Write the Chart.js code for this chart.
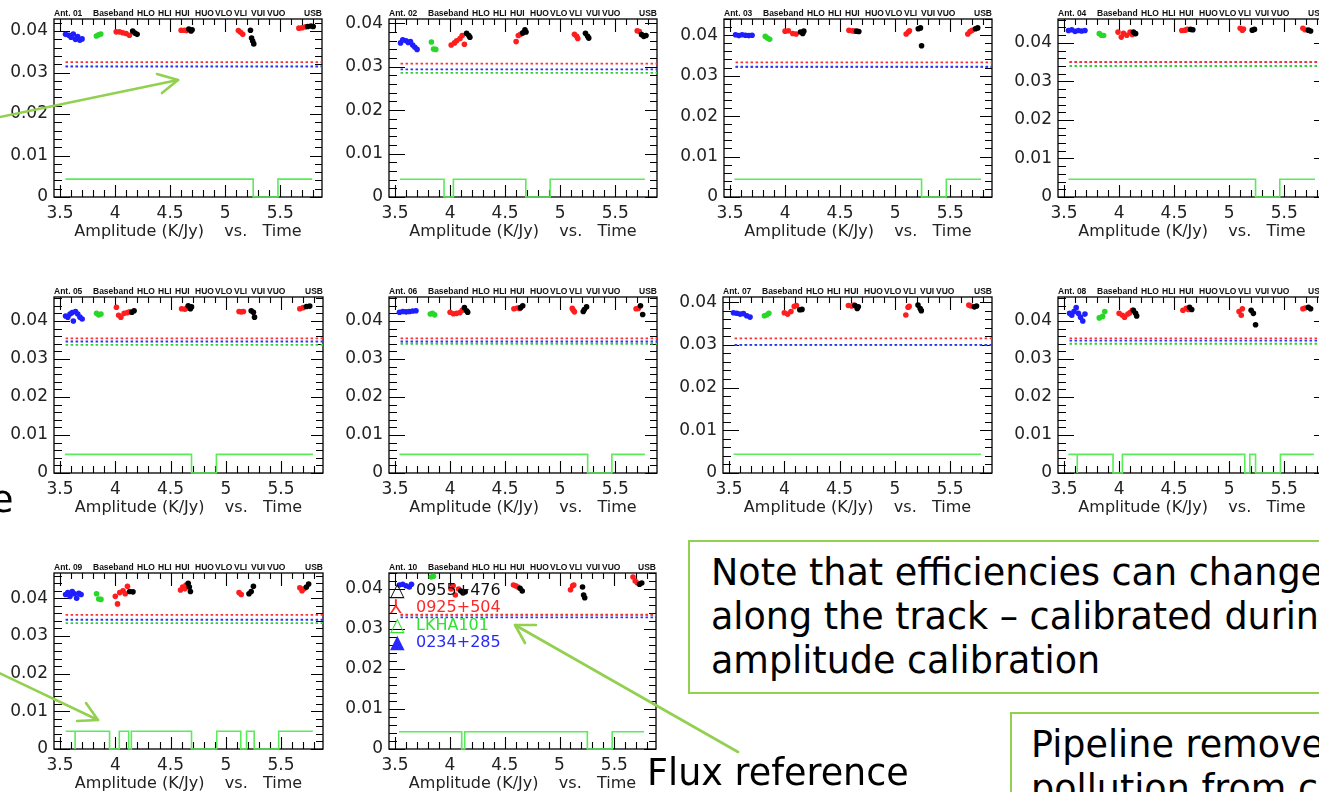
<!DOCTYPE html>
<html><head><meta charset="utf-8">
<script src="https://cdn.jsdelivr.net/npm/chart.js@4.4.1/dist/chart.umd.min.js"></script>
<style>
html,body{margin:0;padding:0;background:#fff;width:1319px;height:792px;overflow:hidden;position:relative;font-family:"DejaVu Sans",sans-serif;}
.panel{position:absolute;}
.panel canvas{position:absolute;left:0;top:0;}
.toplab{position:absolute;font:bold 8.5px "Liberation Sans",Arial,sans-serif;color:#111;white-space:nowrap;line-height:9px;}
.box{position:absolute;border:2px solid rgb(146,208,80);background:#fff;font-size:36.5px;line-height:44px;white-space:nowrap;color:#000;box-sizing:border-box;}
.slide{position:absolute;font-size:36.5px;line-height:44px;white-space:nowrap;color:#000;}
.leg{position:absolute;font-size:16px;line-height:17.3px;white-space:nowrap;}
.leg span{position:absolute;}
.leg span.sym{font-size:19px;line-height:17.3px;}
svg{position:absolute;left:0;top:0;pointer-events:none;}
</style></head><body>
<script>
// ---------- data ----------
const antennaLabels = ['Ant. 01','Ant. 02','Ant. 03','Ant. 04','Ant. 05','Ant. 06','Ant. 07','Ant. 08','Ant. 09','Ant. 10'];
const basebandLabels = ['Baseband','HLO','HLI','HUI','HUO','VLO','VLI','VUI','VUO'];
const sidebandLabel = 'USB';
const sourceNames = ['0955+476','0925+504','LKHA101','0234+285'];
const xTickLabels = ['3.5','4','4.5','5','5.5'];
const yTickLabels = ['0','0.01','0.02','0.03','0.04'];
const xTitle = 'Amplitude (K/Jy)    vs.   Time';
const xRange = [3.445, 5.88];
const yMax = [0.0429,0.0410,0.0440,0.0462,0.0463,0.0463,0.0412,0.0463,0.0467,0.0440];

// 0234+285 (blue)
const blueData = [
 [[3.55,0.0392],[3.58,0.0390],[3.60,0.0385],[3.62,0.0393],[3.64,0.0380],[3.66,0.0387],[3.68,0.0378],[3.70,0.0381]],
 [[3.55,0.0355],[3.57,0.0362],[3.60,0.0360],[3.62,0.0356],[3.64,0.0358],[3.66,0.0350],[3.68,0.0345],[3.70,0.0340]],
 [[3.55,0.0401],[3.58,0.0399],[3.61,0.0401],[3.64,0.0400],[3.67,0.0399],[3.70,0.0400]],
 [[3.54,0.0432],[3.57,0.0434],[3.60,0.0430],[3.63,0.0432],[3.66,0.0431],[3.69,0.0432]],
 [[3.55,0.0413],[3.57,0.0410],[3.59,0.0418],[3.61,0.0422],[3.62,0.0400],[3.64,0.0425],[3.66,0.0418],[3.68,0.0410],[3.70,0.0405]],
 [[3.54,0.0423],[3.57,0.0425],[3.60,0.0424],[3.63,0.0425],[3.66,0.0426],[3.69,0.0427]],
 [[3.54,0.0375],[3.57,0.0374],[3.60,0.0372],[3.63,0.0373],[3.66,0.0368],[3.69,0.0365]],
 [[3.55,0.0420],[3.57,0.0415],[3.59,0.0425],[3.61,0.0435],[3.63,0.0420],[3.65,0.0410],[3.67,0.0400],[3.69,0.0418]],
 [[3.55,0.0410],[3.57,0.0415],[3.59,0.0405],[3.61,0.0418],[3.63,0.0412],[3.65,0.0400],[3.67,0.0413],[3.69,0.0410]],
 [[3.54,0.0410],[3.57,0.0412],[3.60,0.0408],[3.63,0.0405],[3.65,0.0412]]
];
// LKHA101 (green)
const greenData = [
 [[3.83,0.0388],[3.85,0.0391],[3.87,0.0393]],
 [[3.83,0.0357],[3.85,0.0341],[3.87,0.0340]],
 [[3.82,0.0397],[3.84,0.0393],[3.86,0.0390]],
 [[3.82,0.0424],[3.84,0.0420],[3.86,0.0419]],
 [[3.83,0.0420],[3.85,0.0416],[3.87,0.0418]],
 [[3.82,0.0418],[3.84,0.0420],[3.86,0.0416]],
 [[3.82,0.0368],[3.84,0.0370],[3.86,0.0374]],
 [[3.82,0.0408],[3.85,0.0412],[3.87,0.0425]],
 [[3.83,0.0412],[3.85,0.0398],[3.87,0.0397]],
 [[3.83,0.0430],[3.85,0.0432]]
];
// 0925+504 (red)
const redData = [
 [[4.01,0.0398],[4.04,0.0398],[4.07,0.0396],[4.10,0.0394],[4.13,0.0390],[4.60,0.0402],[4.63,0.0402],[4.65,0.0401],[5.12,0.0401],[5.14,0.0397],[5.16,0.0392],[5.67,0.0407],[5.70,0.0408],[5.73,0.0410]],
 [[4.01,0.0350],[4.04,0.0355],[4.06,0.0360],[4.09,0.0365],[4.11,0.0372],[4.13,0.0352],[4.60,0.0358],[4.62,0.0372],[4.64,0.0375],[5.13,0.0375],[5.15,0.0370],[5.16,0.0365],[5.70,0.0383],[5.72,0.0381]],
 [[4.00,0.0410],[4.03,0.0411],[4.07,0.0404],[4.10,0.0403],[4.58,0.0412],[4.61,0.0411],[4.63,0.0410],[5.10,0.0403],[5.12,0.0408],[5.13,0.0411],[5.66,0.0403],[5.68,0.0409],[5.70,0.0412]],
 [[3.99,0.0428],[4.02,0.0415],[4.04,0.0425],[4.07,0.0420],[4.10,0.0428],[4.12,0.0422],[4.57,0.0432],[4.60,0.0433],[4.62,0.0435],[5.10,0.0438],[5.12,0.0433],[5.13,0.0436],[5.67,0.0438],[5.69,0.0434]],
 [[4.01,0.0436],[4.03,0.0415],[4.05,0.0410],[4.08,0.0420],[4.11,0.0422],[4.13,0.0424],[4.60,0.0432],[4.63,0.0431],[4.65,0.0434],[5.12,0.0425],[5.14,0.0424],[5.16,0.0425],[5.67,0.0432],[5.70,0.0435]],
 [[4.00,0.0423],[4.03,0.0419],[4.06,0.0420],[4.09,0.0422],[4.11,0.0428],[4.58,0.0432],[4.61,0.0434],[4.63,0.0433],[5.11,0.0433],[5.12,0.0428],[5.13,0.0424],[5.69,0.0432],[5.71,0.0433]],
 [[4.00,0.0375],[4.03,0.0372],[4.06,0.0378],[4.09,0.0390],[4.11,0.0392],[4.58,0.0392],[4.61,0.0391],[4.63,0.0393],[5.10,0.0370],[5.12,0.0388],[5.13,0.0390],[5.67,0.0393],[5.69,0.0391]],
 [[4.00,0.0420],[4.03,0.0415],[4.05,0.0410],[4.08,0.0418],[4.10,0.0422],[4.12,0.0428],[4.58,0.0428],[4.61,0.0433],[4.63,0.0430],[5.09,0.0425],[5.11,0.0415],[5.12,0.0432],[5.67,0.0432],[5.69,0.0434]],
 [[4.00,0.0405],[4.02,0.0385],[4.04,0.0415],[4.07,0.0420],[4.09,0.0412],[4.11,0.0432],[4.59,0.0422],[4.61,0.0430],[4.63,0.0425],[4.64,0.0435],[5.12,0.0415],[5.14,0.0410],[5.67,0.0428],[5.69,0.0420],[5.71,0.0425]],
 [[4.01,0.0400],[4.03,0.0408],[4.05,0.0385],[4.08,0.0400],[4.58,0.0410],[4.60,0.0408],[4.62,0.0405],[5.10,0.0398],[5.12,0.0408],[5.13,0.0410],[5.67,0.0430],[5.69,0.0420],[5.71,0.0415]]
];
// 0955+476 (black)
const blackData = [
 [[4.16,0.0400],[4.18,0.0395],[4.20,0.0392],[4.67,0.0405],[4.69,0.0400],[4.70,0.0403],[5.23,0.0402],[5.24,0.0383],[5.25,0.0376],[5.26,0.0369],[5.75,0.0411],[5.78,0.0412],[5.80,0.0411]],
 [[4.15,0.0377],[4.17,0.0372],[4.18,0.0368],[4.66,0.0378],[4.68,0.0385],[4.69,0.0380],[5.23,0.0377],[5.25,0.0370],[5.26,0.0366],[5.74,0.0374],[5.76,0.0370],[5.78,0.0372]],
 [[4.14,0.0408],[4.16,0.0404],[4.17,0.0410],[4.65,0.0410],[4.67,0.0409],[5.21,0.0416],[5.23,0.0418],[5.24,0.0374],[5.73,0.0416],[5.75,0.0418]],
 [[4.13,0.0428],[4.15,0.0424],[4.65,0.0435],[4.67,0.0434],[5.21,0.0433],[5.23,0.0435],[5.72,0.0433],[5.74,0.0431]],
 [[4.15,0.0423],[4.17,0.0427],[4.66,0.0440],[4.68,0.0432],[4.69,0.0437],[5.23,0.0427],[5.25,0.0423],[5.26,0.0410],[5.73,0.0438],[5.76,0.0439]],
 [[4.13,0.0435],[4.15,0.0427],[4.16,0.0423],[4.64,0.0435],[4.66,0.0440],[5.21,0.0425],[5.22,0.0430],[5.24,0.0437],[5.73,0.0440],[5.75,0.0417]],
 [[4.14,0.0382],[4.16,0.0383],[4.64,0.0392],[4.66,0.0385],[4.67,0.0389],[5.21,0.0393],[5.23,0.0385],[5.24,0.0380],[5.72,0.0389],[5.74,0.0391]],
 [[4.13,0.0428],[4.15,0.0420],[4.16,0.0413],[4.64,0.0436],[4.66,0.0430],[5.20,0.0428],[5.22,0.0420],[5.24,0.0390],[5.72,0.0436],[5.74,0.0432]],
 [[4.13,0.0418],[4.16,0.0417],[4.66,0.0440],[4.67,0.0430],[4.68,0.0418],[5.21,0.0412],[5.23,0.0418],[5.25,0.0432],[5.73,0.0430],[5.75,0.0438]],
 [[4.10,0.0395],[4.12,0.0390],[4.14,0.0393],[4.64,0.0402],[4.66,0.0395],[5.21,0.0405],[5.22,0.0385],[5.23,0.0378],[5.73,0.0412],[5.75,0.0415]]
];
// reference efficiency levels (dotted lines)
const refRed   = [0.0325,0.0307,0.0333,0.0350,0.0354,0.0354,0.0315,0.0354,0.0356,0.0336];
const refBlue  = [0.0315,0.0294,0.0322,0.0350,0.0346,0.0346,0.0300,0.0348,0.0343,0.0329];
const refGreen = [0.0314,0.0286,0.0321,0.0340,0.0337,0.0340,0.0300,0.0340,0.0334,0.0335];
const refSpan  = [3.55, 5.88];
// flag (green step line): level and [time, on/off] changes
const flagLevel = [0.0043,0.0041,0.0044,0.0046,0.0049,0.0049,0.0044,0.0049,0.0047,0.0043];
const flagSteps = [
 [[3.55,1],[5.255,0],[5.48,1],[5.79,1]],
 [[3.545,1],[3.945,0],[4.03,1],[4.688,0],[4.909,1],[5.77,1]],
 [[3.54,1],[5.24,0],[5.465,1],[5.78,1]],
 [[3.54,1],[5.24,0],[5.46,1],[5.78,1]],
 [[3.545,1],[4.69,0],[4.915,1],[5.79,1]],
 [[3.54,1],[5.25,0],[5.47,1],[5.77,1]],
 [[3.54,1],[5.78,1]],
 [[3.54,1],[3.62,0],[3.62,1],[3.945,0],[4.03,1],[5.142,0],[5.188,1],[5.24,0],[5.466,1],[5.77,1]],
 [[3.551,1],[3.636,0],[3.636,1],[3.948,0],[4.036,1],[4.121,0],[4.145,1],[4.69,0],[4.918,1],[5.136,0],[5.188,1],[5.257,0],[5.479,1],[5.788,1]],
 [[3.536,1],[4.108,0],[4.136,1],[5.254,0],[5.48,1],[5.77,1]]
];

// ---------- layout (page pixels of each plot frame: left, top, right, bottom) ----------
const frames = [
 [54,19,322,197],[389,19,657,197],[724,19,992,197],[1058,19,1326,197],
 [54,297,323,473],[389,297,657,473],[723,297,992,473],[1058,297,1326,473],
 [54,573,323,749],[389,573,656,749]
];
const topLabelOffsets = [0,39,83,104,121,141,161,180,197,213];
const colors = {blue:'rgb(30,30,255)', green:'rgb(40,215,40)', red:'rgb(255,30,30)', black:'#000',
  refRed:'rgb(255,50,50)', refBlue:'rgb(50,50,255)', refGreen:'rgb(50,210,50)', flag:'rgb(90,235,90)'};

const framePlugin = {
  id:'frameTicks',
  beforeDatasetsDraw(chart){
    const {ctx, chartArea:a, scales:{x,y}} = chart;
    ctx.save();
    ctx.strokeStyle='#000'; ctx.lineWidth=1.3;
    ctx.strokeRect(a.left, a.top, a.right-a.left, a.bottom-a.top);
    ctx.beginPath();
    x.ticks.forEach(t=>{
      const px = Math.round(x.getPixelForValue(t.value))+0.5;
      const major = Math.round(t.value*10)%5===0;
      ctx.moveTo(px,a.bottom); ctx.lineTo(px,a.bottom-(major?12:7));
      ctx.moveTo(px,a.top); ctx.lineTo(px,a.top+(major?13:6));
    });
    y.ticks.forEach(t=>{
      const py = Math.round(y.getPixelForValue(t.value))+0.5;
      const major = Math.round(t.value*1000)%10===0;
      ctx.moveTo(a.left,py); ctx.lineTo(a.left+(major?16:8),py);
      ctx.moveTo(a.right,py); ctx.lineTo(a.right-(major?12:7),py);
    });
    ctx.lineWidth=1.1;
    ctx.stroke();
    ctx.restore();
  }
};

const pts = arr => arr.map(p=>({x:p[0], y:p[1]}));

function makePanel(i){
  const [L,T,R,B] = frames[i];
  const padTop=22, padRight=8, yW=54, xH=45;
  const w = yW+(R-L)+padRight, h = padTop+(B-T)+xH;
  const div = document.createElement('div'); div.className='panel';
  Object.assign(div.style,{left:(L-yW)+'px',top:(T-padTop)+'px',width:w+'px',height:h+'px'});
  const cv = document.createElement('canvas'); cv.width=w; cv.height=h;
  cv.style.width=w+'px'; cv.style.height=h+'px';
  div.appendChild(cv); document.body.appendChild(div);

  // top labels
  const labels = [antennaLabels[i]].concat(basebandLabels);
  labels.forEach((txt,k)=>{
    const s=document.createElement('div'); s.className='toplab'; s.textContent=txt;
    s.style.left=(L+topLabelOffsets[k])+'px'; s.style.top=(T-10)+'px';
    document.body.appendChild(s);
  });
  const u=document.createElement('div'); u.className='toplab'; u.textContent=sidebandLabel;
  Object.assign(u.style,{left:L+'px',width:(R-L)+'px',textAlign:'right',top:(T-10)+'px'});
  document.body.appendChild(u);

  const refLine = (v,c)=>({type:'line', data:[{x:refSpan[0],y:v},{x:refSpan[1],y:v}], borderColor:c,
    borderWidth:1.8, borderDash:[2.5,2.5], pointRadius:0, showLine:true, fill:false, clip:false});
  const lvl = flagLevel[i];
  const flagPts = flagSteps[i].map(s=>({x:s[0], y:s[1]?lvl:0}));
  const scat = (d,c)=>({type:'scatter', data:pts(d), backgroundColor:c, borderWidth:0, pointRadius:2.8, pointHoverRadius:2.8});

  new Chart(cv,{
    type:'scatter',
    data:{datasets:[
      scat(blackData[i],colors.black),
      scat(redData[i],colors.red),
      scat(greenData[i],colors.green),
      scat(blueData[i],colors.blue),
      refLine(refRed[i],colors.refRed),
      refLine(refBlue[i],colors.refBlue),
      refLine(refGreen[i],colors.refGreen),
      {type:'line', data:flagPts, stepped:true, borderColor:colors.flag, borderWidth:1.6, pointRadius:0, fill:false, clip:false, showLine:true}
    ]},
    options:{
      responsive:false, animation:false, devicePixelRatio:1,
      layout:{padding:{top:padTop,right:padRight,left:0,bottom:0}},
      plugins:{legend:{display:false}, tooltip:{enabled:false}},
      events:[],
      scales:{
        x:{type:'linear', min:xRange[0], max:xRange[1],
          afterFit:s=>{s.height=xH;},
          grid:{display:false, drawTicks:false}, border:{display:false},
          ticks:{stepSize:0.1, includeBounds:false, autoSkip:false, maxRotation:0, minRotation:0, padding:6,
            color:'#222', font:{family:'DejaVu Sans', size:17},
            callback:v=>{const k=Math.round(v*10); return k%5===0 ? (xTickLabels[(k-35)/5]||'') : '';}},
          title:{display:true, text:xTitle, color:'#222', font:{family:'DejaVu Sans', size:16}, padding:{top:0,bottom:1}}
        },
        y:{type:'linear', min:0, max:yMax[i],
          afterFit:s=>{s.width=yW;},
          grid:{display:false, drawTicks:false}, border:{display:false},
          ticks:{stepSize:0.002, includeBounds:false, autoSkip:false, padding:6,
            color:'#222', font:{family:'DejaVu Sans', size:17},
            callback:v=>{const k=Math.round(v*1000); return k%10===0 ? (yTickLabels[k/10]||'') : '';}}
        }
      }
    },
    plugins:[framePlugin]
  });
}
for (let i=0;i<frames.length;i++) makePanel(i);

// legend of panel 10
const legColors = ['#111','rgb(255,40,40)','rgb(50,225,50)','rgb(40,40,255)'];
const legSymbols = ['\u25B3','\u2144','\u25B3','\u25B2'];
const leg = document.createElement('div'); leg.className='leg';
Object.assign(leg.style,{left:'390px', top:'581px'});
sourceNames.forEach((n,k)=>{
  const sy=document.createElement('span'); sy.className='sym'; sy.textContent=legSymbols[k];
  Object.assign(sy.style,{left:'0px', top:(k*17.3)+'px', color:legColors[k]});
  const tx=document.createElement('span'); tx.textContent=n;
  Object.assign(tx.style,{left:'26px', top:(k*17.3)+'px', color:legColors[k]});
  leg.appendChild(sy); leg.appendChild(tx);
});
document.body.appendChild(leg);
</script>

<div class="slide" style="left:-9px;top:478px;">e</div>
<div class="box" style="left:688px;top:540px;width:700px;height:154px;padding:9px 0 0 21px;">Note that efficiencies can change<br>along the track – calibrated during<br>amplitude calibration</div>
<div class="box" style="left:1010px;top:712px;width:400px;height:120px;padding:9px 0 0 19px;">Pipeline remove<br>pollution from c</div>
<div class="slide" style="left:647px;top:751px;">Flux reference</div>

<svg width="1319" height="792" viewBox="0 0 1319 792">
 <g stroke="rgb(146,208,80)" stroke-width="2.6" fill="none" stroke-linecap="round" stroke-linejoin="round">
  <line x1="-5" y1="118" x2="178" y2="80"/>
  <polyline points="157,74 178,80 162,93"/>
  <line x1="-5" y1="671" x2="98" y2="720"/>
  <polyline points="77,721 98,720 86,703"/>
  <line x1="738" y1="752" x2="515" y2="625"/>
  <polyline points="536,625 515,625 525,643"/>
 </g>
</svg>
</body></html>
